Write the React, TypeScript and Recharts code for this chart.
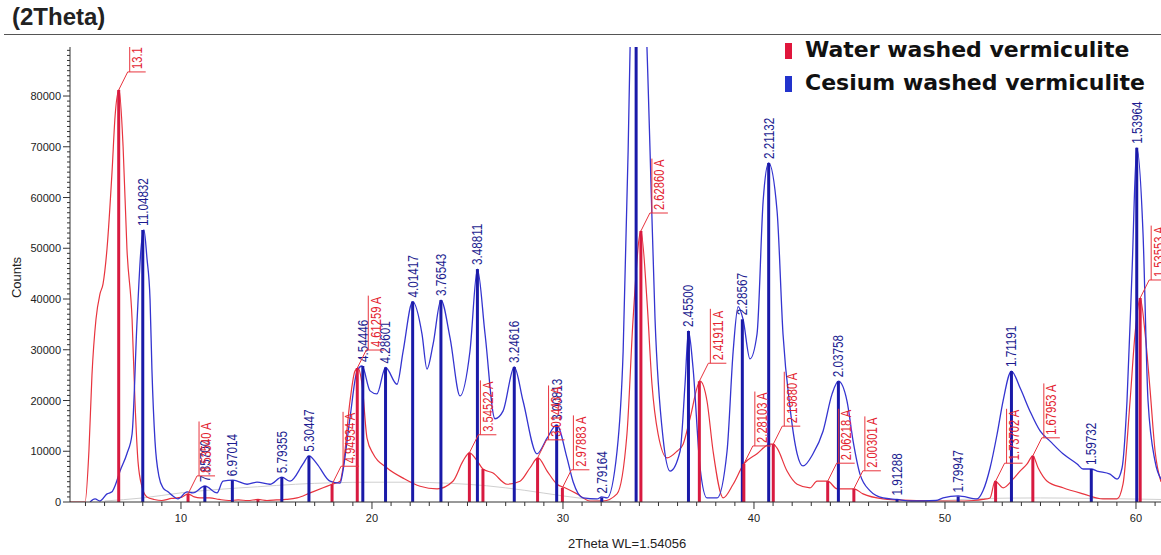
import React from 'react';
import { ComposedChart, Line, XAxis, YAxis, ReferenceLine, Scatter } from 'recharts';

// Water washed vermiculite (red) : [2Theta, counts]
const waterCurve: [number, number][] = [
  [4.19, 0], [4.98, 0], [5.18, 10000], [5.34, 25000], [5.55, 36000], [5.76, 41000], [5.92, 43000],
  [6.13, 50000], [6.39, 65000], [6.55, 76000], [6.76, 81200], [6.97, 70000], [7.17, 50000],
  [7.44, 36000], [7.59, 20000], [7.75, 8000], [7.96, 3000], [8.22, 1000], [8.6, 500], [9.0, 300],
  [9.5, 700], [10.0, 900], [10.37, 1600], [10.7, 1000], [11.0, 800], [11.5, 800], [12.0, 500],
  [12.5, 300], [13.0, 400], [13.5, 300], [14.03, 500], [14.5, 300], [15.0, 400], [15.5, 500],
  [16.08, 800], [16.76, 1800], [17.44, 2800], [17.91, 3500], [18.33, 4100], [18.48, 6700],
  [18.85, 19900], [19.11, 25800], [19.27, 26400], [19.48, 23200], [19.74, 12600], [20.06, 9500],
  [20.79, 6700], [21.63, 4700], [22.52, 3100], [23.41, 2600], [24.24, 4100], [24.77, 8100],
  [25.1, 9700], [25.51, 8100], [25.81, 6500], [26.34, 5700], [27.07, 3500], [27.75, 4100],
  [28.27, 6700], [28.69, 8700], [29.17, 6100], [29.69, 3500], [30.1, 2800], [30.74, 1600],
  [31.42, 200], [32.1, 200], [32.83, 1600], [33.35, 13400], [33.67, 36000], [34.08, 53400],
  [34.4, 39600], [34.66, 23200], [34.98, 13400], [35.45, 8700], [35.97, 10000], [36.29, 11400],
  [36.66, 16600], [37.18, 23800], [37.54, 19900], [37.86, 10000], [38.39, 800], [38.91, 3500],
  [39.47, 7500], [40.16, 9500], [40.84, 11400], [41.01, 11400], [41.21, 10600], [41.73, 6100],
  [42.26, 3500], [42.94, 2800], [43.3, 4100], [43.86, 4100], [44.35, 2600], [45.23, 2600],
  [45.71, 1600], [46.76, 600], [47.5, 400], [48.5, 300], [49.5, 200], [50.5, 200], [51.5, 300],
  [52.0, 500], [52.36, 800], [52.62, 4100], [53.04, 2800], [53.56, 4500], [53.93, 6100],
  [54.3, 7500], [54.6, 9100], [54.88, 6700], [55.35, 4100], [56.18, 2800], [57.23, 1600],
  [58.27, 600], [59.01, 600], [59.32, 3500], [59.69, 19900], [59.95, 33100], [60.22, 40200],
  [60.48, 33100], [60.74, 22000], [61.0, 10000], [61.31, 4000],
];

// Cesium washed vermiculite (blue) : [2Theta, counts]
const cesiumCurve: [number, number][] = [
  [5.24, 0], [5.5, 600], [5.76, 200], [6.13, 1600], [6.39, 2000], [6.55, 3200], [6.81, 6100],
  [7.17, 9500], [7.44, 13400], [7.7, 35600], [7.91, 50000], [8.06, 53600], [8.22, 48000],
  [8.38, 40000], [8.48, 26000], [8.64, 12000], [8.85, 5000], [9.06, 2800], [9.32, 2000],
  [9.58, 1200], [9.84, 600], [10.32, 2000], [10.63, 1800], [11.25, 3150], [11.89, 1800],
  [12.2, 4100], [12.72, 4300], [13.46, 3500], [13.98, 3900], [14.66, 3500], [15.28, 4900],
  [15.71, 4100], [16.39, 7500], [16.7, 9100], [17.12, 7500], [17.8, 4100], [18.33, 3700],
  [18.48, 6100], [18.85, 16600], [19.22, 25800], [19.48, 26800], [19.9, 21900], [20.26, 21300],
  [20.71, 26500], [21.31, 23200], [21.63, 29700], [22.13, 39500], [22.62, 33100], [22.88, 26200],
  [23.2, 31100], [23.61, 39800], [24.09, 32300], [24.61, 20900], [25.13, 29700], [25.52, 45900],
  [25.92, 33100], [26.44, 16400], [26.86, 17900], [27.45, 26600], [27.91, 19900], [28.64, 9500],
  [29.17, 12600], [29.67, 15200], [30.21, 8700], [30.53, 4000], [31.05, 800], [31.78, 600],
  [32.03, 1000], [32.31, 800], [32.83, 10000], [33.15, 29700], [33.41, 69000], [33.62, 110000],
  [33.88, 140000], [34.14, 120000], [34.56, 69000], [34.82, 36000], [35.24, 12600], [35.61, 6100],
  [36.13, 10000], [36.39, 23200], [36.57, 33700], [36.81, 26400], [37.18, 6700], [37.54, 800],
  [38.07, 800], [38.59, 10000], [38.91, 29700], [39.17, 38500], [39.43, 36000], [39.79, 28200],
  [40.16, 33100], [40.48, 59300], [40.77, 66800], [41.21, 57300], [41.52, 33100], [41.89, 18500],
  [42.26, 9500], [42.57, 7100], [43.09, 9500], [43.62, 14000], [44.09, 21300], [44.42, 23800],
  [44.87, 19900], [45.19, 12000], [45.55, 5500], [46.08, 2200], [46.76, 800], [47.49, 500],
  [48.23, 200], [49.53, 300], [49.9, 800], [50.69, 1200], [51.68, 600], [51.99, 2200],
  [52.36, 6700], [52.73, 13400], [53.04, 19900], [53.48, 25800], [53.93, 22500], [54.45, 17900],
  [54.98, 14000], [55.5, 12000], [56.18, 9500], [56.92, 7500], [57.23, 6500], [57.66, 6500],
  [57.96, 6100], [58.64, 5500], [59.01, 4500], [59.27, 6700], [59.53, 19900], [59.8, 46100],
  [60.04, 69800], [60.37, 52800], [60.63, 20000], [61.0, 8000], [61.31, 4500],
];

// fitted background (grey)
const backgroundCurve: [number, number][] = [
  [6, 200], [8, 800], [10, 1800], [12, 2500], [14, 3000], [16, 3500], [18, 3800], [20, 3900],
  [22, 3900], [24, 3700], [26, 3200], [28, 2300], [30, 1200], [32, 300], [33, 0],
];
const backgroundCurve2: [number, number][] = [
  [46, 0], [50, 300], [52, 700], [55, 800], [58, 700], [61.31, 500],
];

// peak sticks: [2Theta, counts, d-spacing label]
const waterPeaks: [number, number, string][] = [
  [6.74, 81200, '13.1'], [10.37, 1600, '8.53540 A'], [14.03, 500, ''], [17.91, 3500, '4.94934 A'],
  [19.23, 26400, '4.61259 A'], [25.1, 9700, '3.54522 A'], [25.81, 6500, ''], [28.67, 8700, '3.01443 A'],
  [29.97, 2800, '2.97883 A'], [34.08, 53400, '2.62860 A'], [37.14, 23800, '2.41911 A'],
  [39.47, 7500, '2.28103 A'], [41.01, 11400, '2.19880 A'], [43.86, 4100, '2.06218 A'],
  [45.23, 2600, '2.00301 A'], [52.65, 4100, '1.73702 A'], [54.6, 9100, '1.67953 A'],
  [60.22, 40200, '1.53553 A'],
];
const cesiumPeaks: [number, number, string][] = [
  [8.0, 53600, '11.04832'], [11.25, 3150, '7.85700'], [12.69, 4300, '6.97014'], [15.28, 4900, '5.79355'],
  [16.7, 9100, '5.30447'], [19.52, 26800, '4.54446'], [20.71, 26500, '4.28601'], [22.13, 39500, '4.01417'],
  [23.61, 39800, '3.76543'], [25.52, 45900, '3.48811'], [27.45, 26600, '3.24616'], [29.67, 15200, '3.00813'],
  [32.03, 900, '2.79164'], [33.83, 130000, ''], [36.57, 33700, '2.45500'], [39.39, 36000, '2.28567'],
  [40.77, 66800, '2.21132'], [44.42, 23800, '2.03758'], [47.49, 500, '1.91288'], [50.69, 1100, '1.79947'],
  [53.48, 25800, '1.71191'], [57.66, 6500, '1.59732'], [60.04, 69800, '1.53964'],
];

const xTicks: number[] = [5, 6, 7, 8, 9, 10, 11, 12, 13, 14, 15, 16, 17, 18, 19, 20, 21, 22, 23, 24, 25, 26, 27, 28, 29, 30,
  31, 32, 33, 34, 35, 36, 37, 38, 39, 40, 41, 42, 43, 44, 45, 46, 47, 48, 49, 50, 51, 52, 53, 54, 55, 56, 57, 58, 59, 60, 61];
const yTicks: number[] = [];
for (let v = 0; v <= 89000; v += 1000) yTicks.push(v);

const RED_LINE = '#e8343e';
const RED_STICK = '#d81a40';
const RED_TEXT = '#e3232f';
const BLUE_LINE = '#3434d0';
const BLUE_STICK = '#1a1aa8';
const BLUE_TEXT = '#1c1c90';
const AXIS = '#333';
const SANS = '"Liberation Sans", Arial, sans-serif';

const toPts = (arr: [number, number][]) => arr.map(([x, y]) => ({ x, y }));
const toPeaks = (arr: [number, number, string][]) => arr.map(([x, y, label]) => ({ x, y, label }));

const XTick = (props: any) => {
  const { x, y, payload } = props;
  const v = payload.value;
  const major = v % 10 === 0;
  return (
    <g>
      <line x1={x} y1={y} x2={x} y2={y + (major ? 7 : 4)} stroke={AXIS} strokeWidth={1} />
      {major && (
        <text x={x} y={y + 20} textAnchor="middle" fontSize={11} fill="#222" fontFamily={SANS}>{v}</text>
      )}
    </g>
  );
};

const YTick = (props: any) => {
  const { x, y, payload } = props;
  const v = payload.value;
  const major = v % 10000 === 0;
  return (
    <g>
      <line x1={x - (major ? 7 : 3)} y1={y} x2={x} y2={y} stroke={AXIS} strokeWidth={1} />
      {major && (
        <text x={x - 9} y={y} dy={4} textAnchor="end" fontSize={11} fill="#222" fontFamily={SANS}>{v}</text>
      )}
    </g>
  );
};

const RedLabel = (props: any) => {
  const { cx, cy, payload } = props;
  if (!payload || !payload.label || cx == null || cy == null) return <g />;
  const bx = cx + 9;
  const by = cy - 18;
  const len = payload.label.length * 5.6 + 4;
  return (
    <g>
      <line x1={cx} y1={cy} x2={bx} y2={by} stroke={RED_LINE} strokeWidth={1} />
      <line x1={bx} y1={by} x2={bx + 18} y2={by} stroke={RED_LINE} strokeWidth={1} />
      <line x1={bx + 2} y1={by} x2={bx + 2} y2={by - len} stroke={RED_LINE} strokeWidth={1} />
      <text transform={`translate(${bx + 10},${by - 3}) rotate(-90) scale(0.86,1.08)`} dominantBaseline="central"
        fontSize={13} fill={RED_TEXT} fontFamily={SANS}>{payload.label}</text>
    </g>
  );
};

const BlueLabel = (props: any) => {
  const { cx, cy, payload } = props;
  if (!payload || !payload.label || cx == null || cy == null) return <g />;
  return (
    <text transform={`translate(${cx},${cy - 4}) rotate(-90) scale(0.9,1.1)`} dominantBaseline="central"
      fontSize={13} fill={BLUE_TEXT} fontFamily={SANS}>{payload.label}</text>
  );
};

export default function App() {
  const water = toPts(waterCurve);
  const cesium = toPts(cesiumCurve);
  const bg1 = toPts(backgroundCurve);
  const bg2 = toPts(backgroundCurve2);
  const wPeaks = toPeaks(waterPeaks);
  const cPeaks = toPeaks(cesiumPeaks);

  return (
    <div style={{ position: 'fixed', left: 0, top: 0, width: 1161, height: 555, background: '#fff', overflow: 'hidden' }}>
      <div style={{ position: 'absolute', left: 12, top: 3, font: `bold 24px ${SANS}`, color: '#222' }}>(2Theta)</div>
      <div style={{ position: 'absolute', left: 4, right: 0, top: 34, height: 0, borderTop: '1.5px solid #555' }} />
      <ComposedChart width={1161} height={555} margin={{ top: 47, right: 0, bottom: 23, left: 0 }}
        style={{ position: 'absolute', left: 0, top: 0 }}>
        <XAxis type="number" dataKey="x" domain={[4.19, 61.31]} allowDataOverflow ticks={xTicks} interval={0}
          tick={(p: any) => <XTick {...p} />} tickSize={0} tickMargin={0} tickLine={false} height={30} stroke={AXIS} />
        <YAxis type="number" dataKey="y" domain={[0, 89660]} allowDataOverflow ticks={yTicks} interval={0}
          tick={(p: any) => <YTick {...p} />} tickSize={0} tickMargin={0} tickLine={false} width={70} stroke={AXIS} />
        <Line data={bg1} dataKey="y" type="monotone" stroke="#cfcfcf" strokeWidth={1} dot={false} isAnimationActive={false} />
        <Line data={bg2} dataKey="y" type="monotone" stroke="#cfcfcf" strokeWidth={1} dot={false} isAnimationActive={false} />
        <Line data={water} dataKey="y" type="monotone" stroke={RED_LINE} strokeWidth={1.2} dot={false} isAnimationActive={false} />
        <Line data={cesium} dataKey="y" type="monotone" stroke={BLUE_LINE} strokeWidth={1.3} dot={false} isAnimationActive={false} />
        {cPeaks.map((p, i) => (
          <ReferenceLine key={'c' + i} segment={[{ x: p.x, y: 0 }, { x: p.x, y: p.y }]} stroke={BLUE_STICK}
            strokeWidth={3} ifOverflow="hidden" />
        ))}
        {wPeaks.map((p, i) => (
          <ReferenceLine key={'w' + i} segment={[{ x: p.x, y: 0 }, { x: p.x, y: p.y }]} stroke={RED_STICK}
            strokeWidth={3} ifOverflow="hidden" />
        ))}
        <Scatter data={cPeaks.filter((p) => p.label)} dataKey="y" isAnimationActive={false} shape={(p: any) => <BlueLabel {...p} />} />
        <Scatter data={wPeaks.filter((p) => p.label)} dataKey="y" isAnimationActive={false} shape={(p: any) => <RedLabel {...p} />} />
      </ComposedChart>
      <div style={{ position: 'absolute', left: 785, top: 43, width: 7, height: 16, background: '#e0163c' }} />
      <div style={{ position: 'absolute', left: 805, top: 37, font: `bold 22px "DejaVu Sans", sans-serif`, color: '#111', whiteSpace: 'nowrap' }}>Water washed vermiculite</div>
      <div style={{ position: 'absolute', left: 785, top: 76, width: 7, height: 16, background: '#2233cc' }} />
      <div style={{ position: 'absolute', left: 805, top: 70, font: `bold 22px "DejaVu Sans", sans-serif`, color: '#111', whiteSpace: 'nowrap' }}>Cesium washed vermiculite</div>
      <div style={{ position: 'absolute', left: -12, top: 270, width: 56, textAlign: 'center', transform: 'rotate(-90deg)', font: `13px ${SANS}`, color: '#222' }}>Counts</div>
      <div style={{ position: 'absolute', left: 568, top: 536, font: `13px ${SANS}`, color: '#222', whiteSpace: 'nowrap' }}>2Theta WL=1.54056</div>
    </div>
  );
}
